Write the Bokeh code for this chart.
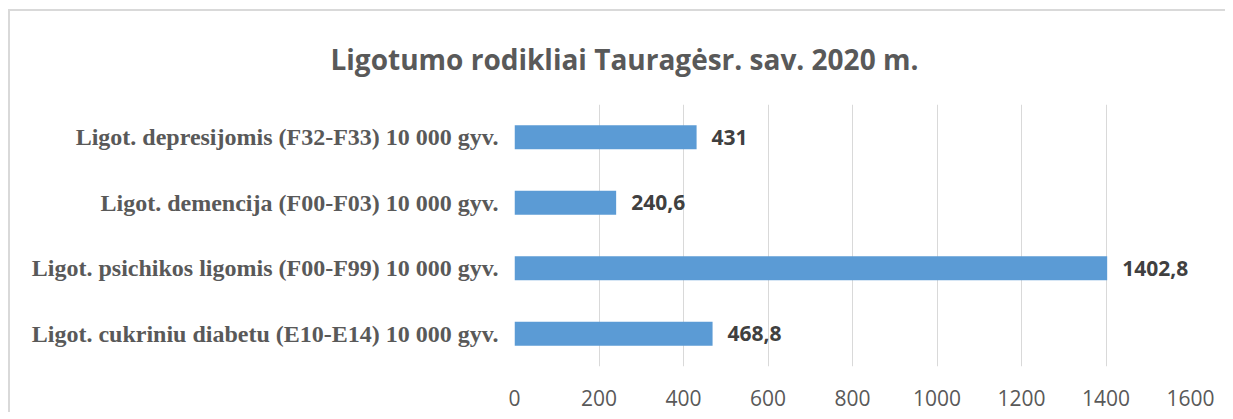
from bokeh.plotting import figure
from bokeh.models import ColumnDataSource, FactorRange, Range1d, FixedTicker
from bokeh.core.properties import value
from bokeh.embed import file_html
from bokeh.resources import INLINE

categories = [
    "Ligot. cukriniu diabetu (E10-E14) 10 000 gyv.",
    "Ligot. psichikos ligomis (F00-F99) 10 000 gyv.",
    "Ligot. demencija (F00-F03) 10 000 gyv.",
    "Ligot. depresijomis (F32-F33) 10 000 gyv.",
]
values = [468.8, 1402.8, 240.6, 431]
tick_values = [0, 200, 400, 600, 800, 1000, 1200, 1400, 1600]
title_text = "Ligotumo rodikliai Tauragėsr. sav. 2020 m."

labels = [("%g" % v).replace(".", ",") for v in values]
src = ColumnDataSource(dict(cat=categories, val=values, lab=labels))

W, H = 1217, 403
p = figure(width=W, height=H, y_range=FactorRange(*categories, range_padding=0),
           x_range=Range1d(0, 1600), output_backend="svg", toolbar_location=None,
           min_border_left=504, min_border_right=37, min_border_top=91, min_border_bottom=48,
           title=title_text)
p.styles = {"margin-left": "8px", "margin-top": "9px",
            "border-top": "2px solid #d9d9d9", "border-left": "2px solid #d9d9d9"}
p.outline_line_color = None
p.background_fill_color = "white"

p.title.align = "left"
p.title.offset = -184
p.title.standoff = 53
p.title.text_font = "Open Sans"
p.title.text_font_style = "bold"
p.title.text_font_size = "28px"
p.title.text_color = "#595959"

p.hbar(y="cat", right="val", left=0, height=0.37, source=src,
       fill_color="#5b9bd5", line_color=None)
p.text(x="val", y="cat", text="lab", source=src, x_offset=15,
       text_align="left", text_baseline="middle",
       text_font=value("Open Sans"), text_font_style="bold", text_font_size="21px",
       text_color="#404040")

p.xaxis.ticker = FixedTicker(ticks=tick_values)
p.xaxis.axis_line_color = None
p.xaxis.major_tick_line_color = None
p.xaxis.minor_tick_line_color = None
p.xaxis.major_label_text_font = "Open Sans"
p.xaxis.major_label_text_font_size = "21px"
p.xaxis.major_label_text_color = "#595959"
p.xaxis.major_label_standoff = 17

p.yaxis.axis_line_color = None
p.yaxis.major_tick_line_color = None
p.yaxis.minor_tick_line_color = None
p.yaxis.major_label_text_font = "Liberation Serif"
p.yaxis.major_label_text_font_style = "bold"
p.yaxis.major_label_text_font_size = "24px"
p.yaxis.major_label_text_color = "#595959"
p.yaxis.major_label_standoff = 10

p.xgrid.grid_line_color = "#d9d9d9"
p.ygrid.grid_line_color = None

open("out.html", "w").write(file_html(p, INLINE))
